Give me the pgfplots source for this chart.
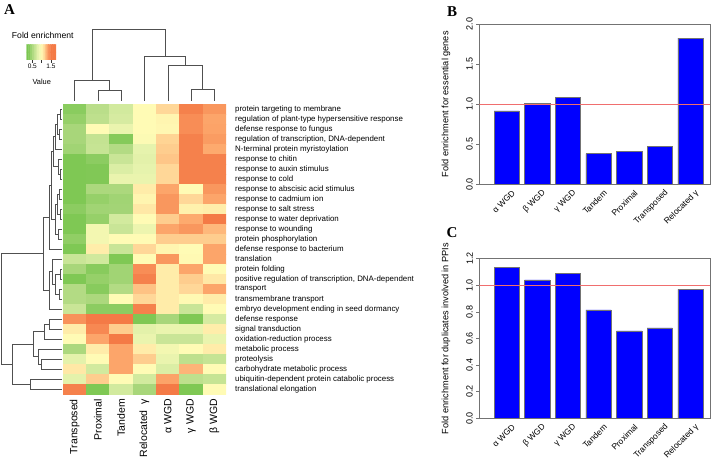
\documentclass[border=0pt]{standalone}
\usepackage{fontspec}
\setmainfont{Liberation Sans}
\newfontfamily\letterfont{Liberation Serif}
\usepackage{pgfplots}
\pgfplotsset{compat=1.18}
\definecolor{dendro}{RGB}{80,80,80}
\definecolor{frame}{RGB}{115,115,115}
\definecolor{refline}{RGB}{240,110,110}
\pgfplotsset{
  colormap={fe}{rgb255(0)=(122,198,80) rgb255(20)=(168,214,122) rgb255(40)=(205,231,154) rgb255(55)=(232,244,174) rgb255(70)=(255,251,181) rgb255(85)=(255,222,158) rgb255(100)=(253,170,110) rgb255(120)=(244,122,70)},
  dendro/.style={draw=dendro, line width=0.6pt, no markers, sharp plot, forget plot},
  /pgf/number format/assume math mode=true,
}
\begin{document}
\begin{tikzpicture}
\useasboundingbox (0,0) rectangle (711pt,463pt);

% ---------- overlay: dendrograms and free text (pixel coordinates, y negated)
\begin{axis}[at={(355.5pt,231.5pt)}, anchor=center, scale only axis,
  width=711pt, height=463pt, xmin=0, xmax=711, ymin=-463, ymax=0,
  hide axis, clip=false]
% column dendrogram
\addplot[dendro] coordinates {(97.9,-101) (97.9,-90) (121.2,-90) (121.2,-101)};
\addplot[dendro] coordinates {(74.6,-101) (74.6,-80) (109.55,-80) (109.55,-90)};
\addplot[dendro] coordinates {(191.1,-101) (191.1,-89.3) (214.4,-89.3) (214.4,-101)};
\addplot[dendro] coordinates {(167.8,-101) (167.8,-65.7) (202.75,-65.7) (202.75,-89.3)};
\addplot[dendro] coordinates {(144.5,-101) (144.5,-56) (185.3,-56) (185.3,-65.7)};
\addplot[dendro] coordinates {(92.1,-80) (92.1,-29.3) (164.9,-29.3) (164.9,-56)};
% row dendrogram
\addplot[dendro] coordinates {(62,-109) (60.5,-109) (60.5,-119) (62,-119)};
\addplot[dendro] coordinates {(62,-129) (59.5,-129) (59.5,-139) (62,-139)};
\addplot[dendro] coordinates {(60.5,-114) (57.5,-114) (57.5,-134) (59.5,-134)};
\addplot[dendro] coordinates {(57.5,-124) (55.5,-124) (55.5,-149) (62,-149)};
\addplot[dendro] coordinates {(62,-169) (60.5,-169) (60.5,-179) (62,-179)};
\addplot[dendro] coordinates {(62,-159) (58.5,-159) (58.5,-174) (60.5,-174)};
\addplot[dendro] coordinates {(55.5,-136.5) (53,-136.5) (53,-166.5) (58.5,-166.5)};
\addplot[dendro] coordinates {(62,-189) (59,-189) (59,-199) (62,-199)};
\addplot[dendro] coordinates {(62,-209) (60,-209) (60,-219) (62,-219)};
\addplot[dendro] coordinates {(59,-194) (57,-194) (57,-214) (60,-214)};
\addplot[dendro] coordinates {(62,-229) (58,-229) (58,-239) (62,-239)};
\addplot[dendro] coordinates {(57,-204) (55,-204) (55,-234) (58,-234)};
\addplot[dendro] coordinates {(53,-151.5) (51.5,-151.5) (51.5,-219) (55,-219)};
\addplot[dendro] coordinates {(51.5,-185.25) (49,-185.25) (49,-249) (62,-249)};
\addplot[dendro] coordinates {(62,-269) (60,-269) (60,-279) (62,-279)};
\addplot[dendro] coordinates {(62,-289) (59,-289) (59,-299) (62,-299)};
\addplot[dendro] coordinates {(60,-274) (55,-274) (55,-294) (59,-294)};
\addplot[dendro] coordinates {(62,-259) (52,-259) (52,-284) (55,-284)};
\addplot[dendro] coordinates {(52,-271.5) (49.5,-271.5) (49.5,-309) (62,-309)};
\addplot[dendro] coordinates {(49,-217.1) (43,-217.1) (43,-290.25) (49.5,-290.25)};
\addplot[dendro] coordinates {(62,-319) (49,-319) (49,-329) (62,-329)};
\addplot[dendro] coordinates {(49,-324) (44,-324) (44,-339) (62,-339)};
\addplot[dendro] coordinates {(62,-359) (41,-359) (41,-369) (62,-369)};
\addplot[dendro] coordinates {(62,-349) (38,-349) (38,-364) (41,-364)};
\addplot[dendro] coordinates {(44,-331.5) (33,-331.5) (33,-356.5) (38,-356.5)};
\addplot[dendro] coordinates {(62,-379) (30,-379) (30,-389) (62,-389)};
\addplot[dendro] coordinates {(33,-344) (12.3,-344) (12.3,-384) (30,-384)};
\addplot[dendro] coordinates {(43,-253.7) (1.7,-253.7) (1.7,-364) (12.3,-364)};
% texts
\node[font=\letterfont\bfseries\fontsize{15}{15}\selectfont] at (axis cs:9.5,-10) {A};
\node[font=\letterfont\bfseries\fontsize{15}{15}\selectfont] at (axis cs:452,-12) {B};
\node[font=\letterfont\bfseries\fontsize{15}{15}\selectfont] at (axis cs:452,-233) {C};
\node[font=\fontsize{8.6}{10}\selectfont] at (axis cs:42.8,-35.5) {Fold enrichment};
\node[font=\fontsize{7.4}{9}\selectfont] at (axis cs:41.7,-81.5) {Value};
\node[font=\fontsize{9.2}{11}\selectfont, rotate=90] at (axis cs:446,-104.15) {Fold enrichment for essential genes};
\node[font=\fontsize{9.2}{11}\selectfont, rotate=90] at (axis cs:446,-338.5) {Fold enrichment for duplicates involved in PPIs};
\end{axis}

% ---------- colour key
\begin{axis}[at={(41.35pt,410.85pt)}, anchor=center, scale only axis,
  width=29.3pt, height=15.7pt, xmin=0.2, xmax=1.77, ymin=0, ymax=1,
  colormap name=fe, point meta min=0.3, point meta max=1.5,
  xtick={0.5,1,1.5}, xticklabels={0.5,,1.5}, ytick=\empty,
  xtick pos=left, tick align=outside, major tick length=3pt,
  axis line style={draw=none}, xtick style={draw=black!80, line width=0.5pt},
  xticklabel style={font=\fontsize{6.5}{7}\selectfont, inner sep=1pt}]
\addplot[matrix plot*, mesh/cols=16, point meta=x] coordinates {
(0.249,0.25) (0.347,0.25) (0.445,0.25) (0.543,0.25) (0.641,0.25) (0.739,0.25) (0.837,0.25) (0.935,0.25)
(1.033,0.25) (1.131,0.25) (1.229,0.25) (1.327,0.25) (1.425,0.25) (1.523,0.25) (1.621,0.25) (1.719,0.25)
(0.249,0.75) (0.347,0.75) (0.445,0.75) (0.543,0.75) (0.641,0.75) (0.739,0.75) (0.837,0.75) (0.935,0.75)
(1.033,0.75) (1.131,0.75) (1.229,0.75) (1.327,0.75) (1.425,0.75) (1.523,0.75) (1.621,0.75) (1.719,0.75)
};
\end{axis}

% ---------- heatmap
\begin{axis}[at={(144.5pt,214pt)}, anchor=center, scale only axis,
  width=163pt, height=290pt, xmin=-0.5, xmax=6.5, ymin=-0.5, ymax=28.5, y dir=reverse,
  colormap name=fe, point meta min=0.3, point meta max=1.5,
  axis line style={draw=none}, major tick length=0pt, tick style={draw=none},
  xtick={0,...,6},
  xticklabels={Transposed,Proximal,Tandem,Relocated\ \ γ,α WGD,γ WGD,β WGD},
  xticklabel style={rotate=90, anchor=east, inner sep=0pt, font=\fontsize{10.5}{12}\selectfont},
  xticklabel shift=5pt,
  ytick={0,...,28},
  yticklabels={protein targeting to membrane, regulation of plant-type hypersensitive response,
    defense response to fungus, {regulation of transcription, DNA-dependent},
    N-terminal protein myristoylation, response to chitin, response to auxin stimulus,
    response to cold, response to abscisic acid stimulus, response to cadmium ion,
    response to salt stress, response to water deprivation, response to wounding,
    protein phosphorylation, defense response to bacterium, translation, protein folding,
    {positive regulation of transcription, DNA-dependent}, transport, transmembrane transport,
    embryo development ending in seed dormancy, defense response, signal transduction,
    oxidation-reduction process, metabolic process, proteolysis, carbohydrate metabolic process,
    ubiquitin-dependent protein catabolic process, translational elongation},
  yticklabel pos=right,
  yticklabel style={anchor=west, inner sep=0pt, font=\fontsize{7.9}{9}\selectfont},
  yticklabel shift=9pt]
\addplot[matrix plot*, mesh/cols=7, point meta=explicit] coordinates {
(0,0) [0.37] (1,0) [0.60] (2,0) [0.73] (3,0) [1.00] (4,0) [1.17] (5,0) [1.47] (6,0) [1.38]
(0,1) [0.42] (1,1) [0.62] (2,1) [0.75] (3,1) [1.00] (4,1) [1.03] (5,1) [1.42] (6,1) [1.32]
(0,2) [0.50] (1,2) [1.00] (2,2) [0.86] (3,2) [1.00] (4,2) [1.02] (5,2) [1.42] (6,2) [1.33]
(0,3) [0.50] (1,3) [0.65] (2,3) [0.35] (3,3) [0.98] (4,3) [1.18] (5,3) [1.47] (6,3) [1.36]
(0,4) [0.47] (1,4) [0.66] (2,4) [0.56] (3,4) [0.84] (4,4) [1.20] (5,4) [1.47] (6,4) [1.30]
(0,5) [0.32] (1,5) [0.38] (2,5) [0.68] (3,5) [0.82] (4,5) [1.22] (5,5) [1.47] (6,5) [1.47]
(0,6) [0.32] (1,6) [0.33] (2,6) [0.78] (3,6) [0.84] (4,6) [1.17] (5,6) [1.47] (6,6) [1.47]
(0,7) [0.32] (1,7) [0.33] (2,7) [0.86] (3,7) [0.86] (4,7) [1.17] (5,7) [1.47] (6,7) [1.47]
(0,8) [0.32] (1,8) [0.52] (2,8) [0.52] (3,8) [1.08] (4,8) [1.32] (5,8) [1.00] (6,8) [1.38]
(0,9) [0.32] (1,9) [0.42] (2,9) [0.47] (3,9) [1.03] (4,9) [1.38] (5,9) [1.17] (6,9) [1.32]
(0,10) [0.38] (1,10) [0.47] (2,10) [0.48] (3,10) [1.10] (4,10) [1.38] (5,10) [1.05] (6,10) [1.07]
(0,11) [0.32] (1,11) [0.42] (2,11) [0.73] (3,11) [1.00] (4,11) [1.20] (5,11) [1.30] (6,11) [1.50]
(0,12) [0.32] (1,12) [0.92] (2,12) [0.68] (3,12) [0.88] (4,12) [1.32] (5,12) [1.38] (6,12) [1.26]
(0,13) [0.40] (1,13) [0.92] (2,13) [1.00] (3,13) [1.00] (4,13) [1.20] (5,13) [1.20] (6,13) [1.20]
(0,14) [0.32] (1,14) [1.07] (2,14) [0.68] (3,14) [1.17] (4,14) [1.03] (5,14) [1.00] (6,14) [1.32]
(0,15) [0.68] (1,15) [0.72] (2,15) [0.32] (3,15) [1.00] (4,15) [1.38] (5,15) [1.01] (6,15) [1.32]
(0,16) [0.50] (1,16) [0.36] (2,16) [0.47] (3,16) [1.42] (4,16) [1.08] (5,16) [1.32] (6,16) [1.00]
(0,17) [0.32] (1,17) [0.42] (2,17) [0.47] (3,17) [1.47] (4,17) [1.08] (5,17) [1.20] (6,17) [1.10]
(0,18) [0.56] (1,18) [0.36] (2,18) [0.56] (3,18) [1.23] (4,18) [1.08] (5,18) [1.17] (6,18) [1.32]
(0,19) [0.56] (1,19) [0.52] (2,19) [1.00] (3,19) [1.17] (4,19) [1.08] (5,19) [1.01] (6,19) [1.08]
(0,20) [0.68] (1,20) [0.38] (2,20) [0.38] (3,20) [1.47] (4,20) [1.08] (5,20) [0.68] (6,20) [1.00]
(0,21) [1.40] (1,21) [1.50] (2,21) [1.50] (3,21) [0.32] (4,21) [0.50] (5,21) [0.32] (6,21) [0.75]
(0,22) [1.08] (1,22) [1.44] (2,22) [1.20] (3,22) [0.82] (4,22) [0.86] (5,22) [0.86] (6,22) [1.07]
(0,23) [1.00] (1,23) [1.32] (2,23) [1.50] (3,23) [0.86] (4,23) [0.68] (5,23) [0.68] (6,23) [0.86]
(0,24) [0.52] (1,24) [1.08] (2,24) [1.32] (3,24) [1.08] (4,24) [0.92] (5,24) [1.00] (6,24) [1.08]
(0,25) [0.83] (1,25) [1.00] (2,25) [1.32] (3,25) [1.20] (4,25) [0.86] (5,25) [0.62] (6,25) [0.66]
(0,26) [1.10] (1,26) [0.73] (2,26) [1.32] (3,26) [1.00] (4,26) [0.78] (5,26) [1.27] (6,26) [1.00]
(0,27) [0.83] (1,27) [1.20] (2,27) [1.00] (3,27) [0.73] (4,27) [1.33] (5,27) [0.62] (6,27) [0.66]
(0,28) [1.47] (1,28) [0.32] (2,28) [0.73] (3,28) [0.50] (4,28) [1.50] (5,28) [0.32] (6,28) [1.00]
};
\end{axis}

% ---------- panel B
\begin{axis}[at={(594.8pt,358.85pt)}, anchor=center, scale only axis,
  width=231pt, height=160.3pt, xmin=0.106, xmax=7.65, ymin=0, ymax=2,
  axis line style={draw=frame, line width=0.6pt},
  ytick={0,0.5,1,1.5,2}, yticklabels={0.0,0.5,1.0,1.5,2.0},
  ytick pos=left, tick align=outside, major tick length=3.3pt,
  ytick style={draw=frame, line width=0.6pt},
  yticklabel style={rotate=90, anchor=south, inner sep=0pt, font=\fontsize{9}{10}\selectfont},
  yticklabel shift=3pt,
  xtick={1,...,7}, xtick pos=left, xtick style={draw=none},
  xticklabels={α WGD,β WGD,γ WGD,Tandem,Proximal,Transposed,Relocated γ},
  xticklabel style={xshift=7pt, yshift=-4pt, rotate=45, anchor=east, inner sep=0pt, font=\fontsize{8.4}{10}\selectfont}]
\addplot[ybar, bar shift=0pt, bar width=25.3pt, fill=blue, draw=black!55, line width=0.4pt]
  coordinates {(1,0.915) (2,1.006) (3,1.089) (4,0.383) (5,0.412) (6,0.470) (7,1.825)};
\addplot[refline, line width=0.9pt, sharp plot, no markers] coordinates {(0.106,1) (7.65,1)};
\end{axis}

% ---------- panel C
\begin{axis}[at={(594.8pt,124.5pt)}, anchor=center, scale only axis,
  width=231pt, height=159.6pt, xmin=0.106, xmax=7.65, ymin=0, ymax=1.2,
  axis line style={draw=frame, line width=0.6pt},
  ytick={0,0.2,0.4,0.6,0.8,1.0,1.2}, yticklabels={0.0,0.2,0.4,0.6,0.8,1.0,1.2},
  ytick pos=left, tick align=outside, major tick length=3.3pt,
  ytick style={draw=frame, line width=0.6pt},
  yticklabel style={rotate=90, anchor=south, inner sep=0pt, font=\fontsize{9}{10}\selectfont},
  yticklabel shift=3pt,
  xtick={1,...,7}, xtick pos=left, xtick style={draw=none},
  xticklabels={α WGD,β WGD,γ WGD,Tandem,Proximal,Transposed,Relocated γ},
  xticklabel style={xshift=7pt, yshift=-4pt, rotate=45, anchor=east, inner sep=0pt, font=\fontsize{8.4}{10}\selectfont}]
\addplot[ybar, bar shift=0pt, bar width=25.3pt, fill=blue, draw=black!55, line width=0.4pt]
  coordinates {(1,1.133) (2,1.040) (3,1.090) (4,0.815) (5,0.657) (6,0.680) (7,0.970)};
\addplot[refline, line width=0.9pt, sharp plot, no markers] coordinates {(0.106,1) (7.65,1)};
\end{axis}
\end{tikzpicture}
\end{document}
